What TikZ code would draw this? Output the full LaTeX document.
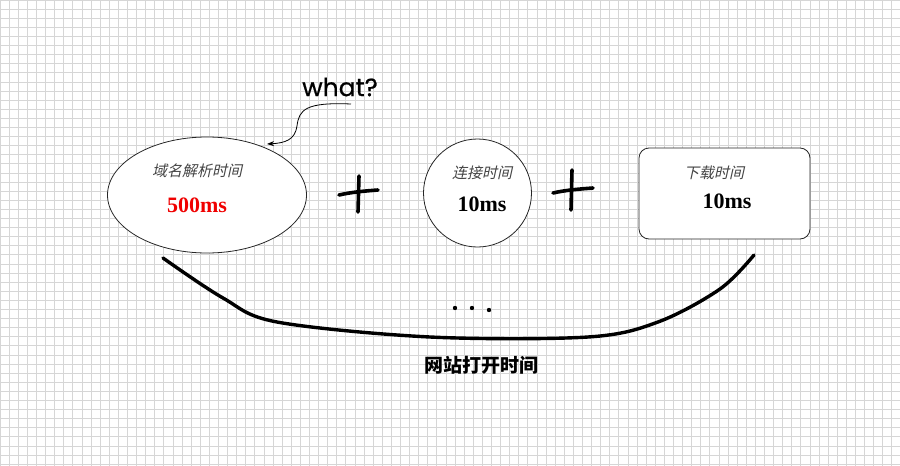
\documentclass[tikz,border=0pt]{standalone}
\usepackage{fontspec}
\setmainfont{Liberation Serif}
\newfontfamily\cjk{Noto Sans CJK SC}
\newfontfamily\cjkit[FakeSlant=0.22]{Noto Sans CJK SC}
\newfontfamily\hand[FakeBold=0.6]{Poppins}
\usetikzlibrary{shapes.geometric,arrows.meta}
\definecolor{gridc}{HTML}{D6D6D6}
\definecolor{labelc}{HTML}{444444}
\definecolor{hot}{HTML}{F00000}
\tikzset{
  shapeline/.style={draw=black!85, line width=0.8pt, fill=white},
  label/.style={font=\cjkit\fontsize{15}{15}\selectfont, text=labelc, inner sep=0pt},
  value/.style={font=\bfseries\fontsize{22}{22}\selectfont, inner sep=0pt},
  plusline/.style={line width=3.6pt, line cap=round},
  brace/.style={line width=3.4pt, line cap=round, line join=round},
}
\begin{document}
\begin{tikzpicture}[x=1pt,y=-1pt]
\useasboundingbox (0,0) rectangle (900,466);
\fill[white] (0,0) rectangle (900,466);
% grid
\foreach \i in {0,...,99} {
  \draw[gridc, line width=0.8pt] ({\i*9.1},0) -- ({\i*9.1},466);
}
\foreach \j in {0,...,51} {
  \draw[gridc, line width=0.8pt] (0,{\j*9.1}) -- (900,{\j*9.1});
}
% shapes
\node[shapeline, ellipse, minimum width=199pt, minimum height=116pt, inner sep=0pt] (dns) at (207,195) {};
\node[shapeline, circle, minimum size=108pt, inner sep=0pt] (conn) at (477.5,193) {};
\node[shapeline, rectangle, rounded corners=10pt, minimum width=171pt, minimum height=91pt, inner sep=0pt] (down) at (724.5,193.5) {};
% texts
\node[label] (dnsl) at (197,171) {域名解析时间};
\node[value, text=hot] (dnsv) at (197,205) {500ms};
\node[label] (connl) at (482,173) {连接时间};
\node[value] (connv) at (482,204) {10ms};
\node[label] (downl) at (714,173) {下载时间};
\node[value] (downv) at (727,201) {10ms};
% what
\node[font=\hand\fontsize{25}{25}\selectfont, inner sep=0pt] (what) at (340,87) {what?};
\coordinate (ws) at (351,104);
\coordinate (we) at (267,144);
\draw[line width=0.8pt, -{Stealth[length=7pt,width=5pt]}] (ws) .. controls (305,102) and (299,110) .. (297,126) .. controls (295,140) and (285,143) .. (we);
% plus signs
\draw[plusline] (339,195) .. controls (352,192) and (365,191) .. (378,190);
\draw[plusline] (359,176) -- (358,212);
\draw[plusline] (553,193) .. controls (566,190) and (580,189) .. (593,188);
\draw[plusline] (572,170) -- (571,210);
% brace
\draw[brace] plot[smooth, tension=0.55] coordinates {(163,258) (223,298) (277,322) (430,337) (588,337) (658,322) (720,289) (754,255)};
% dots
\fill (455,308) circle (2.2pt);
\fill (472,308) circle (2.2pt);
\fill (489,310) circle (2.2pt);
% total
\node[font=\cjk\bfseries\fontsize{19}{19}\selectfont, inner sep=0pt] (total) at (481,365) {网站打开时间};
\end{tikzpicture}
\end{document}
